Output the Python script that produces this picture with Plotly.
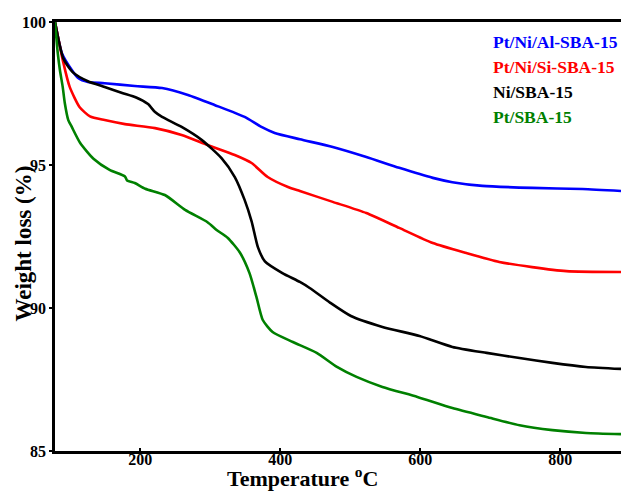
import plotly.graph_objects as go

# TGA curves: temperature (°C) vs remaining weight (%)
temp_al = [78, 88, 102, 111, 125, 149, 192, 231, 268, 306, 349, 373, 392, 428, 475, 523,
           570, 618, 646, 689, 760, 832, 887]
wt_al = [100, 98.9, 98.32, 98.04, 97.9, 97.86, 97.76, 97.69, 97.45, 97.1, 96.68, 96.33, 96.12,
         95.9, 95.63, 95.28, 94.9, 94.55, 94.4, 94.27, 94.2, 94.16, 94.09]

temp_si = [78, 90, 99, 113, 128, 149, 178, 221, 259, 296, 335, 359, 382, 411, 428, 475, 523,
           570, 618, 666, 713, 760, 809, 887]
wt_si = [100, 98.57, 97.73, 97.03, 96.7, 96.57, 96.43, 96.29, 96.05, 95.7, 95.35, 95.07, 94.58,
         94.23, 94.09, 93.71, 93.32, 92.8, 92.27, 91.92, 91.61, 91.43, 91.29, 91.26]

temp_ni = [78, 90, 104, 125, 149, 174, 194, 211, 221, 231, 259, 288, 316, 335, 349, 359, 368,
           378, 403, 428, 442, 471, 501, 546, 599, 646, 695, 742, 789, 837, 887]
wt_ni = [100, 98.72, 98.23, 97.93, 97.73, 97.52, 97.36, 97.13, 96.85, 96.68, 96.33, 95.87,
         95.24, 94.58, 93.78, 93.03, 92.13, 91.63, 91.22, 90.91, 90.7, 90.19, 89.72, 89.34,
         89.02, 88.64, 88.43, 88.25, 88.08, 87.94, 87.87]

temp_pt = [78, 82, 85, 89, 92, 97, 102, 114, 133, 156, 178, 181, 192, 207, 235, 264, 296, 309,
           325, 342, 356, 366, 375, 389, 418, 452, 481, 509, 546, 596, 646, 695, 742, 789, 837, 887]
wt_pt = [100, 98.9, 98.32, 97.73, 97.17, 96.57, 96.33, 95.77, 95.22, 94.83, 94.6, 94.46, 94.37,
         94.17, 93.95, 93.43, 93.0, 92.73, 92.45, 91.95, 91.22, 90.38, 89.58, 89.16, 88.81,
         88.43, 87.94, 87.59, 87.24, 86.89, 86.5, 86.19, 85.9, 85.73, 85.63, 85.59]

series_names = ["Pt/Ni/Al-SBA-15", "Pt/Ni/Si-SBA-15", "Ni/SBA-15", "Pt/SBA-15"]
series_colors = ["#0000ff", "#ff0000", "#000000", "#008000"]
series_temps = [temp_al, temp_si, temp_ni, temp_pt]
series_wts = [wt_al, wt_si, wt_ni, wt_pt]

x_ticks = [200, 400, 600, 800]
y_ticks = [85, 90, 95, 100]

SERIF = "Liberation Serif, Times New Roman, serif"

fig = go.Figure()
for name, color, t, w in zip(series_names, series_colors, series_temps, series_wts):
    fig.add_trace(go.Scatter(
        x=t, y=w, name=name, mode="lines",
        line=dict(color=color, width=2.6, shape="spline", smoothing=0.6),
        showlegend=False,
    ))

# text-only legend, coloured like the curves
legend_y = [0.9534, 0.8951, 0.8368, 0.7786]
for name, color, yy in zip(series_names, series_colors, legend_y):
    fig.add_annotation(
        x=0.7703, y=yy, xref="paper", yref="paper", xanchor="left", yanchor="middle",
        text=f"<b>{name}</b>", showarrow=False,
        font=dict(family=SERIF, size=17.5, color=color),
    )

# axis titles
fig.add_annotation(
    x=0.438, y=-0.0606, xref="paper", yref="paper", xanchor="center", yanchor="middle",
    text="<b>Temperature <sup>o</sup>C</b>", showarrow=False,
    font=dict(family=SERIF, size=22, color="black"),
)
fig.add_annotation(
    x=-0.0565, y=0.4837, xref="paper", yref="paper", xanchor="center", yanchor="middle",
    text="<b>Weight loss (%)</b>", showarrow=False, textangle=-90,
    font=dict(family=SERIF, size=23, color="black"),
)

fig.update_layout(
    width=622, height=491,
    margin=dict(l=55, r=1, t=22, b=40),
    paper_bgcolor="white", plot_bgcolor="white",
    xaxis=dict(
        range=[78, 887], tickvals=x_ticks, ticktext=[str(v) for v in x_ticks],
        showgrid=False, zeroline=False,
        showline=True, linecolor="black", linewidth=2.5, mirror=True,
        ticks="inside", ticklen=3, tickwidth=1.5, tickcolor="black",
        ticklabelstandoff=-8,
        tickfont=dict(family=SERIF, size=16, color="black", weight="bold"),
    ),
    yaxis=dict(
        range=[85, 100], tickvals=y_ticks, ticktext=[str(v) for v in y_ticks],
        showgrid=False, zeroline=False,
        showline=True, linecolor="black", linewidth=2.5, mirror=False,
        ticks="outside", ticklen=3, tickwidth=1.5, tickcolor="black",
        tickfont=dict(family=SERIF, size=16, color="black", weight="bold"),
    ),
)

fig.write_html("out.html")
